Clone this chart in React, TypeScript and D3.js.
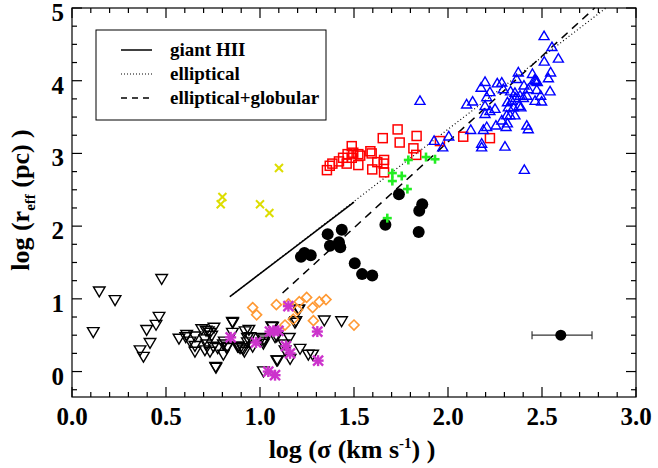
import React from 'react';
import * as d3 from 'd3';

const W = 658;
const H = 468;
const left = 72;
const right = 636;
const top = 8;
const bottom = 397;

const xTicks = [0, 0.5, 1, 1.5, 2, 2.5, 3];
const yTicks = [0, 1, 2, 3, 4, 5];

// fitted relations (log sigma, log r_eff)
const giantHIILine = [[0.84, 1.03], [1.5, 2.33]];
const ellipticalLine = [[0.84, 1.03], [2.84, 5.0]];
const ellGlobLine = [[1.12, 1.08], [2.78, 5.0]];

const blackCircles = [
  [1.739, 2.44], [1.863, 2.3], [1.847, 2.21], [1.667, 2.02], [1.844, 1.92],
  [1.435, 1.95], [1.36, 1.89], [1.372, 1.73], [1.42, 1.78], [1.427, 1.71],
  [1.236, 1.63], [1.27, 1.6], [1.218, 1.58], [1.504, 1.49], [1.543, 1.34],
  [1.597, 1.32],
];

const greenPlus = [
  [1.789, 2.91], [1.883, 2.95], [1.931, 2.92], [1.704, 2.73], [1.754, 2.69],
  [1.704, 2.62], [1.784, 2.51], [1.677, 2.11],
];

const redSquares = [
  [1.732, 3.33], [1.653, 3.21], [1.833, 3.24], [1.743, 3.15], [1.488, 3.1],
  [1.816, 3.07], [1.831, 2.98], [1.957, 3.17], [1.496, 3.01], [1.523, 2.99],
  [1.533, 2.97], [1.466, 2.99], [1.587, 3.03], [1.594, 3.0], [1.442, 2.94],
  [1.488, 2.94], [1.42, 2.89], [1.461, 2.86], [1.385, 2.86], [1.371, 2.83],
  [1.356, 2.77], [1.523, 2.84], [1.624, 2.88], [1.66, 2.91], [1.658, 2.86],
  [1.597, 2.78], [1.66, 2.74], [2.081, 3.23], [2.223, 3.21],
];

const blueTriangles = [
  [2.511, 4.62], [2.553, 4.47], [2.587, 4.31], [2.512, 4.27], [2.374, 4.12],
  [2.449, 4.1], [2.546, 4.12], [2.534, 4.04], [2.46, 4.02], [2.47, 4.0],
  [2.475, 3.99], [2.465, 4.01], [2.365, 4.03], [2.197, 3.99], [2.176, 3.91],
  [2.262, 3.97], [2.286, 3.98], [2.294, 3.89], [2.223, 3.85], [2.333, 3.86],
  [2.356, 3.84], [2.404, 3.94], [2.427, 3.89], [2.472, 3.88], [2.543, 3.86],
  [2.493, 3.8], [2.463, 3.73], [2.498, 3.72], [2.383, 3.8], [2.401, 3.77],
  [2.419, 3.8], [2.36, 3.77], [2.339, 3.73], [2.316, 3.71], [2.321, 3.64],
  [2.348, 3.64], [2.378, 3.66], [2.388, 3.64], [2.206, 3.78], [2.131, 3.72],
  [2.099, 3.68], [2.197, 3.66], [2.223, 3.59], [2.25, 3.62], [2.197, 3.55],
  [2.286, 3.46], [2.312, 3.53], [2.33, 3.53], [2.356, 3.53], [2.255, 3.39],
  [2.309, 3.37], [2.316, 3.42], [2.419, 3.39], [2.427, 3.34], [2.206, 3.37],
  [2.188, 3.33], [2.121, 3.33], [2.004, 3.24], [1.926, 3.18], [1.972, 3.09],
  [2.179, 3.14], [2.179, 3.09], [2.303, 3.1], [2.406, 2.78], [1.851, 3.73],
];

const yellowX = [[1.101, 2.8], [0.8, 2.4], [0.791, 2.3], [1.0, 2.3], [1.05, 2.18]];

const orangeDiamonds = [
  [0.961, 0.88], [0.982, 0.78], [1.087, 0.92], [1.151, 0.93], [1.209, 0.96],
  [1.248, 1.02], [1.316, 0.96], [1.351, 0.99], [1.28, 0.88], [1.2, 0.85],
  [1.133, 0.64], [1.177, 0.72], [1.284, 0.7], [1.5, 0.64],
];

const magentaStars = [
  [1.151, 0.9], [0.844, 0.47], [0.979, 0.4], [1.071, 0.56], [1.098, 0.56],
  [1.053, 0.55], [1.305, 0.55], [1.138, 0.35], [1.16, 0.25], [1.309, 0.15],
  [1.044, 0.0], [1.08, -0.05],
];

const blackTriangles = [
  [0.145, 1.1], [0.229, 0.98], [0.113, 0.54], [0.477, 1.27], [0.463, 0.75],
  [0.447, 0.64], [0.397, 0.57], [0.415, 0.39], [0.362, 0.29], [0.38, 0.2],
  [0.569, 0.45], [0.61, 0.5], [0.605, 0.47], [0.654, 0.48], [0.628, 0.41],
  [0.654, 0.35], [0.654, 0.27], [0.69, 0.58], [0.725, 0.55], [0.755, 0.6],
  [0.743, 0.49], [0.707, 0.44], [0.716, 0.37], [0.707, 0.29], [0.752, 0.34],
  [0.734, 0.27], [0.775, 0.32], [0.764, 0.06], [0.805, 0.37], [0.81, 0.41],
  [0.805, 0.23], [0.826, 0.34], [0.853, 0.68], [0.853, 0.53], [0.885, 0.34],
  [0.911, 0.3], [0.906, 0.32], [0.921, 0.55], [0.941, 0.57], [0.947, 0.47],
  [0.961, 0.34], [1.009, 0.46], [1.021, 0.41], [1.018, 0.0], [1.062, 0.62],
  [1.089, 0.48], [1.089, 0.15], [0.855, 0.67], [0.933, 0.46], [1.021, 0.44],
  [0.933, 0.4], [1.018, 0.38], [1.08, 0.47], [1.067, 0.61], [1.156, 0.46],
  [1.128, 0.37], [1.133, 0.29], [1.16, 0.17], [1.213, 0.31], [1.186, 0.67],
  [1.204, 0.85], [1.257, 0.23], [1.28, 0.23], [1.342, 0.7], [1.434, 0.69],
  [1.094, 0.15], [0.766, 0.05], [0.881, 0.34], [0.894, 0.32], [0.917, 0.27],
  [0.823, 0.32], [0.713, 0.56], [0.734, 0.53], [1.191, 0.69], [1.207, 0.85],
];

// example point with error bar
const errPoint = [2.6, 0.5];
const errRange = [2.447, 2.766];

const legendItems = [
  { label: 'giant HII', dash: null, width: 1.5 },
  { label: 'elliptical', dash: '1 2', width: 1 },
  { label: 'elliptical+globular', dash: '6 5', width: 1.5 },
];

const serifStyle = { fontFamily: "'Liberation Serif', 'Times New Roman', Times, serif", fontWeight: 'bold' as const };

export default function App() {
  const x = d3.scaleLinear().domain([0, 3]).range([left, right]);
  const y = d3.scaleLinear().domain([-0.35, 5]).range([bottom, top]);
  const line = d3.line<number[]>().x((d) => x(d[0])).y((d) => y(d[1]));

  const xMinor = d3.range(0, 3.0001, 0.1);
  const yMinor = d3.range(-0.25, 5.0001, 0.25);

  const tri = (s: number, down: boolean) =>
    down ? `M${-s},${-s * 0.8}L${s},${-s * 0.8}L0,${s * 0.9}Z` : `M${-s},${s * 0.8}L${s},${s * 0.8}L0,${-s * 0.9}Z`;

  const pos = (d: number[]) => `translate(${x(d[0])},${y(d[1])})`;

  return (
    <svg width={W} height={H} style={{ position: 'absolute', left: 0, top: 0, background: '#fff' }}>
      <rect x={0} y={0} width={W} height={H} fill="#fff" />
      {/* frame */}
      <rect x={left} y={top} width={right - left} height={bottom - top} fill="none" stroke="#000" strokeWidth={1.2} />
      {xMinor.map((v, i) => {
        const major = Math.abs(v * 2 - Math.round(v * 2)) < 1e-6;
        const len = major ? 10 : 5;
        return (
          <g key={'xt' + i} stroke="#000" strokeWidth={1.2}>
            <line x1={x(v)} x2={x(v)} y1={bottom} y2={bottom - len} />
            <line x1={x(v)} x2={x(v)} y1={top} y2={top + len} />
          </g>
        );
      })}
      {yMinor.map((v, i) => {
        const major = Math.abs(v - Math.round(v)) < 1e-6;
        const len = major ? 10 : 5;
        return (
          <g key={'yt' + i} stroke="#000" strokeWidth={1.2}>
            <line x1={left} x2={left + len} y1={y(v)} y2={y(v)} />
            <line x1={right} x2={right - len} y1={y(v)} y2={y(v)} />
          </g>
        );
      })}
      {xTicks.map((v) => (
        <text key={'xl' + v} x={x(v)} y={425} textAnchor="middle" style={serifStyle} fontSize={25}>
          {v.toFixed(1)}
        </text>
      ))}
      {yTicks.map((v) => (
        <text key={'yl' + v} x={64} y={y(v) + 13} textAnchor="end" style={serifStyle} fontSize={25}>
          {v}
        </text>
      ))}
      <text x={352} y={458} textAnchor="middle" style={serifStyle} fontSize={26}>
        log (σ (km s<tspan dy={-10} fontSize={15}>-1</tspan>
        <tspan dy={10}>) )</tspan>
      </text>
      <text transform={`translate(29,${200}) rotate(-90)`} textAnchor="middle" style={serifStyle} fontSize={26}>
        log (r<tspan dy={6} fontSize={15}>eff</tspan>
        <tspan dy={-6}> (pc) )</tspan>
      </text>

      {/* relations */}
      <path d={line(giantHIILine) || ''} stroke="#000" strokeWidth={1.5} fill="none" />
      <path d={line(ellipticalLine) || ''} stroke="#000" strokeWidth={1.2} strokeDasharray="1 2.5" fill="none" />
      <path d={line(ellGlobLine) || ''} stroke="#000" strokeWidth={1.5} strokeDasharray="8 6" fill="none" />

      {/* black open down-triangles */}
      {blackTriangles.map((d, i) => (
        <path key={'bt' + i} transform={pos(d)} d={tri(5.8, true)} fill="none" stroke="#000" strokeWidth={1.4} />
      ))}
      {orangeDiamonds.map((d, i) => (
        <path key={'od' + i} transform={pos(d)} d="M0,-5L5,0L0,5L-5,0Z" fill="none" stroke="#ff9933" strokeWidth={1.6} />
      ))}
      {magentaStars.map((d, i) => (
        <g key={'ms' + i} transform={pos(d)} stroke="#cc33cc" strokeWidth={2.4}>
          <line x1={-5} x2={5} y1={-5} y2={5} />
          <line x1={-5} x2={5} y1={5} y2={-5} />
          <line x1={-5.5} x2={5.5} y1={0} y2={0} />
          <line x1={0} x2={0} y1={-5.5} y2={5.5} />
        </g>
      ))}
      {yellowX.map((d, i) => (
        <g key={'yx' + i} transform={pos(d)} stroke="#dddd00" strokeWidth={2}>
          <line x1={-4} x2={4} y1={-4} y2={4} />
          <line x1={-4} x2={4} y1={4} y2={-4} />
        </g>
      ))}
      {redSquares.map((d, i) => (
        <rect key={'rs' + i} transform={pos(d)} x={-4.5} y={-4.5} width={9} height={9} fill="none" stroke="#ff0000" strokeWidth={1.5} />
      ))}
      {blueTriangles.map((d, i) => (
        <path key={'bu' + i} transform={pos(d)} d={tri(5, false)} fill="none" stroke="#0000ff" strokeWidth={1.4} />
      ))}
      {blackCircles.map((d, i) => (
        <circle key={'bc' + i} cx={x(d[0])} cy={y(d[1])} r={6} fill="#000" />
      ))}
      {greenPlus.map((d, i) => (
        <g key={'gp' + i} transform={pos(d)} stroke="#22ee22" strokeWidth={2.6}>
          <line x1={-4.5} x2={4.5} y1={0} y2={0} />
          <line x1={0} x2={0} y1={-4.5} y2={4.5} />
        </g>
      ))}

      {/* error bar */}
      <g stroke="#333" strokeWidth={1.2}>
        <line x1={x(errRange[0])} x2={x(errRange[1])} y1={y(errPoint[1])} y2={y(errPoint[1])} />
        <line x1={x(errRange[0])} x2={x(errRange[0])} y1={y(errPoint[1]) - 4} y2={y(errPoint[1]) + 4} />
        <line x1={x(errRange[1])} x2={x(errRange[1])} y1={y(errPoint[1]) - 4} y2={y(errPoint[1]) + 4} />
      </g>
      <circle cx={x(errPoint[0])} cy={y(errPoint[1])} r={5.5} fill="#000" />

      {/* legend */}
      <rect x={96} y={30} width={230} height={90} fill="#fff" stroke="#000" strokeWidth={1} />
      {legendItems.map((it, i) => (
        <g key={'lg' + i}>
          <line
            x1={121}
            x2={152}
            y1={50 + i * 24}
            y2={50 + i * 24}
            stroke="#000"
            strokeWidth={it.width}
            strokeDasharray={it.dash || undefined}
          />
          <text x={170} y={56 + i * 24} style={serifStyle} fontSize={19}>
            {it.label}
          </text>
        </g>
      ))}
    </svg>
  );
}
